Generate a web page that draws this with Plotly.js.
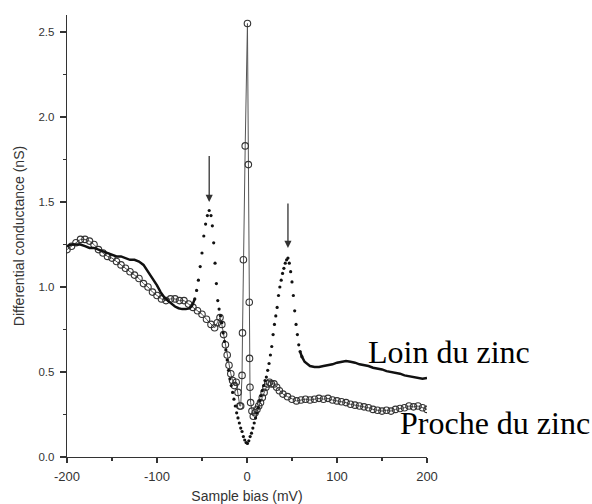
<!DOCTYPE html>
<html>
<head>
<meta charset="utf-8">
<script src="https://cdn.plot.ly/plotly-3.0.1.min.js"></script>
<style>html,body{margin:0;padding:0;background:#fff;}#chart{width:592px;height:504px;}</style>
</head>
<body>
<div id="chart"></div>
<script>
// "Loin du zinc" (far from zinc) – dotted / solid series
const farX = [-200,-195,-190,-185,-180,-175,-170,-165,-160,-155,-150,-145,-140,-135,-130,-125,-120,-115,-110,-105,-100,-96,-92,-88,-84,-80,-76,-72,-68,-64,-61,-58,
  -56,-54,-52,-50,-48,-46,-44,-42,-40,-38.5,-37,-35.5,-34,-32.5,-31,-29.5,-28,-26.5,-25,-23.5,-22,-20.5,-19,-17.5,-16,-14.5,-13,-11.5,-10,-8.5,-7,-5.5,-4,-2.5,-1,0.5,2,3.5,5,6.5,8,9.5,11,12.5,14,15.5,17,18.5,20,21.5,23,24.5,26,27.5,29,30.5,32,33.5,35,36.5,38,39.5,41,42.5,44,45.5,47,48.5,50,51.5,53,54.5,56,57.5,59,
  61,64,67,70,75,80,85,90,95,100,105,110,115,120,125,130,135,140,145,150,155,160,165,170,175,180,185,190,195,200];
const farY = [1.24,1.25,1.25,1.25,1.24,1.23,1.23,1.22,1.21,1.20,1.19,1.18,1.18,1.17,1.16,1.16,1.15,1.13,1.09,1.05,1.01,0.97,0.94,0.92,0.90,0.885,0.875,0.87,0.87,0.875,0.89,0.93,
  0.98,1.04,1.12,1.20,1.30,1.37,1.42,1.45,1.42,1.36,1.26,1.14,1.02,0.92,0.87,0.83,0.79,0.73,0.68,0.63,0.57,0.51,0.46,0.42,0.38,0.34,0.30,0.26,0.23,0.20,0.17,0.15,0.12,0.10,0.085,0.08,0.095,0.12,0.14,0.17,0.20,0.23,0.26,0.29,0.33,0.36,0.39,0.42,0.45,0.47,0.51,0.55,0.60,0.65,0.72,0.78,0.83,0.88,0.95,1.00,1.04,1.08,1.11,1.14,1.16,1.17,1.14,1.09,1.03,0.95,0.86,0.78,0.72,0.66,0.62,
  0.59,0.56,0.545,0.535,0.53,0.53,0.535,0.54,0.545,0.555,0.56,0.565,0.56,0.555,0.545,0.54,0.535,0.525,0.52,0.515,0.505,0.50,0.495,0.49,0.48,0.475,0.47,0.465,0.46,0.465];

// "Proche du zinc" (near zinc) – open circles
const nearX = [-200,-195,-190,-185,-180,-175,-170,-165,-160,-155,-150,-145,-140,-135,-130,-125,-120,-115,-110,-105,-100,-95,-90,-85,-80,-75,-70,-65,-60,-55,-50,-45,-40,-36,-33,-30,-28,-26,-24,-22,-20,-18,-16,-14,-12,-10,-8,
  -7,-5.5,-5,-4,-2,0.5,1.5,2.5,2.8,3.3,4,5.5,7,9,11,13,15,17,19,21,23,25,27,30,33,36,40,45,50,55,60,65,70,75,80,85,90,95,100,105,110,115,120,125,130,135,140,145,150,155,160,165,170,175,180,185,190,195,200];
const nearY = [1.22,1.24,1.26,1.28,1.28,1.27,1.25,1.22,1.20,1.18,1.17,1.15,1.13,1.11,1.09,1.07,1.05,1.02,1.00,0.97,0.95,0.93,0.92,0.93,0.93,0.92,0.92,0.90,0.88,0.86,0.84,0.81,0.78,0.76,0.79,0.82,0.78,0.72,0.66,0.60,0.54,0.49,0.45,0.42,0.44,0.38,0.30,
  0.30,0.48,0.73,1.16,1.83,2.55,1.72,0.91,0.58,0.41,0.32,0.27,0.24,0.26,0.28,0.30,0.32,0.35,0.38,0.41,0.43,0.44,0.43,0.43,0.41,0.39,0.37,0.355,0.34,0.33,0.335,0.34,0.335,0.34,0.345,0.34,0.345,0.335,0.33,0.325,0.32,0.31,0.305,0.30,0.295,0.29,0.28,0.275,0.27,0.275,0.27,0.28,0.285,0.29,0.30,0.295,0.30,0.29,0.28];

const xTickVals = [-200,-100,0,100,200];
const xTickText = ['-200','-100','0','100','200'];
const yTickVals = [0,0.5,1.0,1.5,2.0,2.5];
const yTickText = ['0.0','0.5','1.0','1.5','2.0','2.5'];

const seriesNames = ['Loin du zinc','Proche du zinc'];
const arrowX = [-42, 45.5];
const arrowTipY = [1.5, 1.23];
const arrowTailY = [1.78, 1.5];

// split far series: solid in flat parts, dots across the peaks
const farSolidY = farY.map((v,i)=> (farX[i] <= -58 || farX[i] >= 59) ? v : null);
const farDotX = farX.filter(x => x >= -58 && x <= 61);
const farDotY = farY.filter((v,i) => farX[i] >= -58 && farX[i] <= 61);

const traces = [
  {x: nearX, y: nearY, mode:'lines+markers', name: seriesNames[1],
   line:{color:'#555', width:1},
   marker:{symbol:'circle-open', size:6.5, color:'#333', line:{width:1.1, color:'#333'}},
   showlegend:false},
  {x: farX, y: farSolidY, mode:'lines', name: seriesNames[0], connectgaps:false,
   line:{color:'#111', width:2.5}, showlegend:false},
  {x: farDotX, y: farDotY, mode:'markers', name: seriesNames[0],
   marker:{symbol:'circle', size:3.2, color:'#111'}, showlegend:false}
];

const serif = 'Liberation Serif, Times New Roman, serif';
const annotations = [
  {x:132, y:0.62, xref:'x', yref:'y', text:seriesNames[0], showarrow:false, xanchor:'left', yanchor:'middle',
   font:{family:serif, size:32, color:'#000'}},
  {x:168, y:0.20, xref:'x', yref:'y', text:seriesNames[1], showarrow:false, xanchor:'left', yanchor:'middle',
   font:{family:serif, size:32, color:'#000'}}
];
for (let i=0;i<arrowX.length;i++){
  annotations.push({x:arrowX[i], y:arrowTipY[i], ax:arrowX[i], ay:arrowTailY[i], xref:'x', yref:'y', axref:'x', ayref:'y',
    text:'', showarrow:true, arrowhead:2, arrowsize:1.1, arrowwidth:1.3, arrowcolor:'#333'});
}

const sans = 'Liberation Sans, Arial, sans-serif';
const layout = {
  width:592, height:504,
  margin:{l:67, r:165, t:15, b:47},
  paper_bgcolor:'#fff', plot_bgcolor:'#fff',
  showlegend:false,
  xaxis:{range:[-200,200], tickvals:xTickVals, ticktext:xTickText, ticks:'outside', ticklen:5, tickwidth:1.2, tickcolor:'#333',
    showline:true, linecolor:'#333', linewidth:1.3, showgrid:false, zeroline:false,
    tickfont:{family:sans, size:13, color:'#333'}, ticklabelstandoff:2,
    minor:{tickvals:[-150,-50,50,150], ticks:'outside', ticklen:3, tickcolor:'#333', showgrid:false},
    title:{text:'Sample bias (mV)', font:{family:sans, size:14, color:'#333'}, standoff:10}},
  yaxis:{range:[0,2.6], tickvals:yTickVals, ticktext:yTickText, ticks:'outside', ticklen:6, tickwidth:1.2, tickcolor:'#333',
    showline:true, linecolor:'#333', linewidth:1.3, showgrid:false, zeroline:false,
    tickfont:{family:sans, size:11.5, color:'#333'}, ticklabelstandoff:3,
    minor:{tickvals:[0.25,0.75,1.25,1.75,2.25], ticks:'outside', ticklen:3, tickcolor:'#333', showgrid:false},
    title:{text:'Differential conductance (nS)', font:{family:sans, size:14, color:'#333'}, standoff:10}},
  annotations: annotations
};
Plotly.newPlot('chart', traces, layout, {displayModeBar:false, staticPlot:true});
</script>
</body>
</html>
